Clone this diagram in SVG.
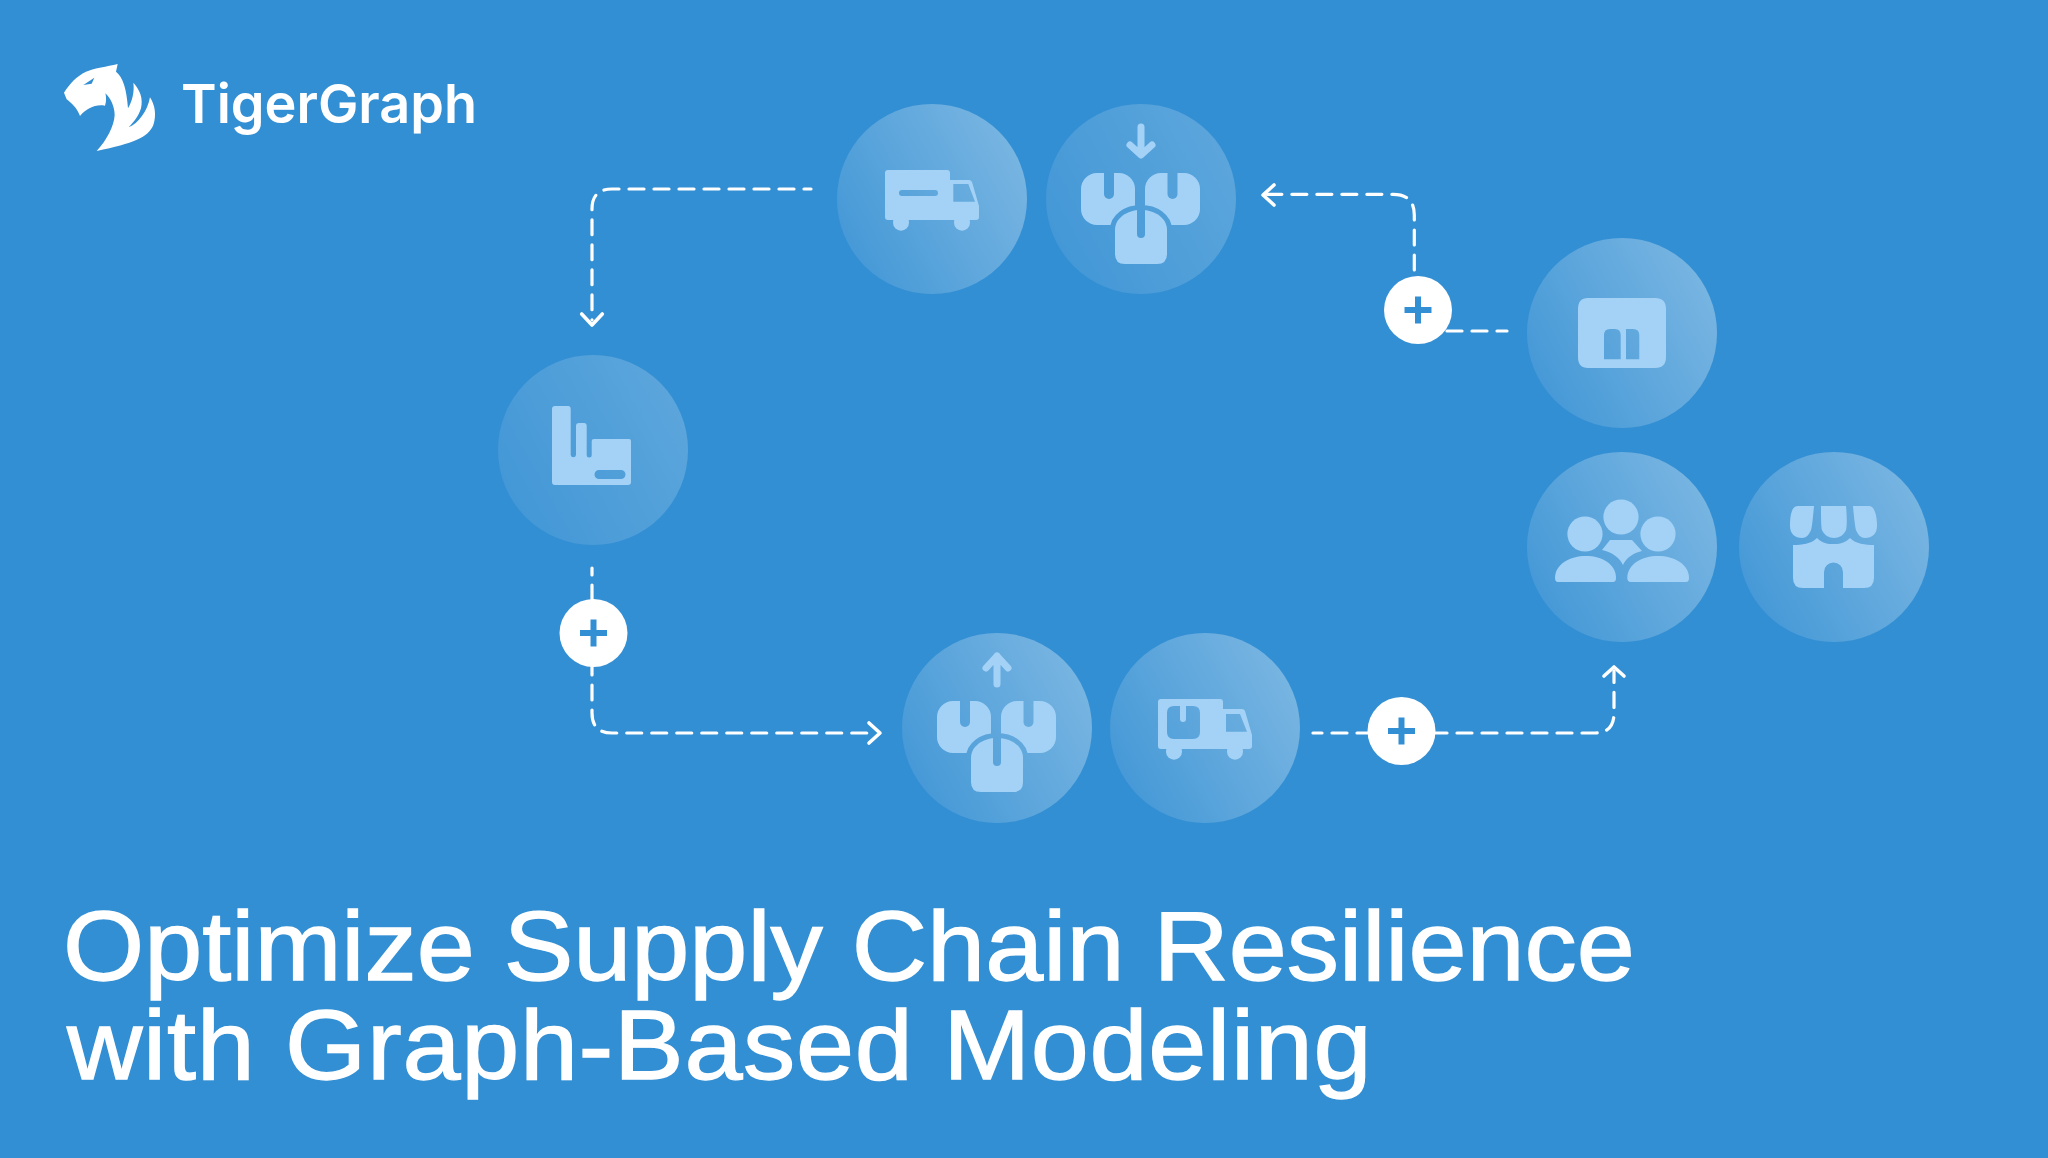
<svg xmlns="http://www.w3.org/2000/svg" xmlns:xlink="http://www.w3.org/1999/xlink" width="2048" height="1158" viewBox="0 0 2048 1158">
<style>
.disc{stroke:none}
.ic{fill:#A4D2F6}
.hole{fill-rule:evenodd}
.link{fill:none;stroke:#fff;stroke-width:3.2;stroke-linecap:round;stroke-linejoin:round;stroke-dasharray:15 10}
.tip{fill:none;stroke:#fff;stroke-width:3.6;stroke-linecap:round;stroke-linejoin:round}
.plus{fill:#fff}
.plusbar{stroke:#338FD3;stroke-width:6;fill:none}
.title{font-family:"Liberation Sans",Arial,sans-serif;font-size:98px;fill:#fff;stroke:#fff;stroke-width:1.3}
.brand{font-family:Inter,"Liberation Sans",sans-serif;font-size:54px;font-weight:600;fill:#fff}
</style>
<defs>
<linearGradient id="gA" x1="0" y1="0.85" x2="1" y2="0.3"><stop offset="0" stop-color="#fff" stop-opacity=".07"/><stop offset="1" stop-color="#fff" stop-opacity=".34"/></linearGradient>
<linearGradient id="gB" x1="0" y1="0.85" x2="1" y2="0.3"><stop offset="0" stop-color="#fff" stop-opacity=".07"/><stop offset="1" stop-color="#fff" stop-opacity=".2"/></linearGradient>
<mask id="boxcut" maskUnits="userSpaceOnUse" x="-70" y="-40" width="140" height="115">
<rect x="-60" y="-26" width="54" height="52" rx="16" fill="#fff"/>
<rect x="4" y="-26" width="55" height="52" rx="16" fill="#fff"/>
<rect x="-37" y="-40" width="10" height="40" rx="5" fill="#000"/>
<rect x="26.500" y="-40" width="10" height="40" rx="5" fill="#000"/>
<path d="M-26,31 C-26,19 -14,11 0,11 C14,11 26,19 26,31 V55 Q26,65 16,65 H-16 Q-26,65 -26,55 Z" fill="none" stroke="#000" stroke-width="10"/>
<path d="M-26,31 C-26,19 -14,11 0,11 C14,11 26,19 26,31 V55 Q26,65 16,65 H-16 Q-26,65 -26,55 Z" fill="#fff"/>
<rect x="-4" y="-5" width="8" height="44" rx="4" fill="#000"/>
</mask>
<g id="boxes"><rect class="ic" x="-70" y="-40" width="140" height="115" mask="url(#boxcut)"/></g>
<g id="wheels"><circle class="ic" cx="-31" cy="23.700" r="8"/><circle class="ic" cx="30" cy="23.700" r="8"/></g>
</defs>
<rect width="2048" height="1158" fill="#338FD3"/>

<g id="logo">
<path fill="#fff" fill-rule="evenodd" transform="translate(40,40) scale(.33333)" d="M72,158 C88,132 110,108 138,95 C165,84 200,80 233,72 L228,95 C250,112 260,150 264,205 C276,185 284,155 280,128 C300,150 310,175 303,205 C295,230 282,245 266,262 C295,250 322,215 330,172 C345,195 350,225 340,255 C325,292 280,310 170,333 C200,300 222,260 224,225 C224,200 212,175 196,160 C200,175 198,190 195,197 C165,192 140,205 120,228 C112,205 95,190 80,178 Z M130,135 L163,113 L155,131 Z"/>
<text class="brand" x="181" y="123">TigerGraph</text>
</g>

<g id="connectors">
<path class="link" stroke-dashoffset="8" d="M811,189 H612 Q592,189 592,209 V320"/>
<path class="tip" d="M581.700,314 L592,325 L602.300,314"/>
<path class="link" d="M1414.300,270 V215 Q1414.300,194.300 1393,194.300 H1266"/>
<path class="tip" d="M1274,185 L1263,195 L1274,205"/>
<path class="link" stroke-dasharray="14 8" stroke-dashoffset="5" d="M1507,331 H1440"/>
<path class="link" stroke-dashoffset="8" d="M592,568 V713 Q592,733 612,733 H876"/>
<path class="tip" d="M869,723 L880,733 L869,743"/>
<path class="link" stroke-dashoffset="6" d="M1313,733 H1595 Q1614,733 1614,713 V671"/>
<path class="tip" d="M1604,676 L1614,667 L1624,676"/>
</g>

<g id="node-truck-out" transform="translate(932,199)">
<circle class="disc" r="95" fill="url(#gA)"/>
<path class="ic hole" d="M-47,-26 Q-47,-29 -44,-29 H15 Q18,-29 18,-26 V-19 H37 Q39,-19 40,-17 L47,7 V18 Q47,21 44,21 H-44 Q-47,21 -47,18 Z M21.300,-15 V2.700 H43 L36.300,-15 Z M-30,-9 A3,3 0 0 0 -30,-3 H3 A3,3 0 0 0 3,-9 Z"/>
<use xlink:href="#wheels" href="#wheels"/>
</g>

<g id="node-inbound" transform="translate(1141,199)">
<circle class="disc" r="95" fill="url(#gB)"/>
<use xlink:href="#boxes" href="#boxes"/>
<path style="fill:none;stroke:#A4D2F6;stroke-width:7;stroke-linecap:round;stroke-linejoin:round" d="M0,-72 V-45 M-11,-54 L0,-44 L11,-54"/>
</g>

<g id="node-factory" transform="translate(593,450)">
<circle class="disc" r="95" fill="url(#gB)"/>
<path class="ic hole" d="M-41,-41 Q-41,-44 -38,-44 H-25 Q-22.300,-44 -22.300,-41 V5 A2.700,2.700 0 0 0 -17,5 V-24 Q-17,-27 -14,-27 H-9 Q-6.300,-27 -6.300,-24 V5 A2.500,2.500 0 0 0 -1.300,5 V-9 Q-1.300,-11 1,-11 H36 Q38,-11 38,-9 V32 Q38,35 35,35 H-38 Q-41,35 -41,32 Z M6,20 A4.500,4.500 0 0 0 6,29 H28 A4.500,4.500 0 0 0 28,20 Z"/>
</g>

<g id="node-outbound" transform="translate(997,728)">
<circle class="disc" r="95" fill="url(#gA)"/>
<use xlink:href="#boxes" href="#boxes" y="-1"/>
<path style="fill:none;stroke:#A4D2F6;stroke-width:7;stroke-linecap:round;stroke-linejoin:round" d="M0,-44 V-72 M-11,-60 L0,-72 L11,-60"/>
</g>

<g id="node-truck-parcel" transform="translate(1205,728)">
<circle class="disc" r="95" fill="url(#gA)"/>
<path class="ic hole" d="M-47,-26 Q-47,-29 -44,-29 H15 Q18,-29 18,-26 V-19 H37 Q39,-19 40,-17 L47,7 V18 Q47,21 44,21 H-44 Q-47,21 -47,18 Z M21,-14 V3.700 H42 L35,-14 Z M-31,-22 Q-38,-22 -38,-15 V4 Q-38,11 -31,11 H-12 Q-5,11 -5,4 V-15 Q-5,-22 -12,-22 Z"/>
<path class="ic" d="M-25,-22 H-19 V-9 A3,3 0 0 1 -25,-9 Z"/>
<use xlink:href="#wheels" href="#wheels"/>
</g>

<g id="node-warehouse" transform="translate(1622,333)">
<circle class="disc" r="95" fill="url(#gA)"/>
<path class="ic hole" d="M-34,-35 H33 Q44,-35 44,-24 V24 Q44,35 33,35 H-34 Q-44,35 -44,24 V-24 Q-44,-35 -34,-35 Z M-18,26.300 V2 Q-18,-4 -12,-4 H-7 Q-1.300,-4 -1.300,2 V26.300 Z M4,26.300 V-4 H11 Q17.300,-4 17.300,2 V26.300 Z"/>
</g>

<g id="node-customers" transform="translate(1622,547)">
<circle class="disc" r="95" fill="url(#gA)"/>
<circle class="ic" cx="-1" cy="-30" r="17.600"/>
<circle class="ic" cx="-37" cy="-13" r="17.600"/>
<circle class="ic" cx="36" cy="-13" r="17.600"/>
<path class="ic" d="M-20,3 L-12,-7 H10 L20,4 C11,6 4,11 1,18 C-2,11 -10,5 -20,3 Z"/>
<path class="ic" d="M-64,35 Q-67,35 -67,31 C-67,17 -52,9 -36,9 C-20,9 -6,17 -6,31 Q-6,35 -9,35 Z"/>
<path class="ic" d="M9,35 Q5.300,35 5.300,31 C5.300,17 20,9 36,9 C52,9 67,17 67,31 Q67,35 64,35 Z"/>
</g>

<g id="node-store" transform="translate(1834,547)">
<circle class="disc" r="95" fill="url(#gA)"/>
<path class="ic" d="M-36,-41 H-20 C-21,-30 -22,-20 -23,-17 C-25,-12 -28,-9 -32,-9 C-39,-9 -44,-13 -44,-21 C-44,-30 -43,-41 -36,-41 Z"/>
<path class="ic" d="M-13,-41 H12 C13,-30 13,-20 12,-17 C10,-12 5,-9 0,-9 C-5,-9 -10,-12 -12,-17 C-13,-20 -13,-30 -13,-41 Z"/>
<path class="ic" d="M19,-41 H35 C41,-41 43,-30 43,-21 C43,-13 38,-9 31,-9 C27,-9 24,-12 22,-17 C21,-20 20,-30 19,-41 Z"/>
<path class="ic" d="M-41,-2 C-32,-2 -23,-3 -17,-9 C-11,-3 -5,-3 -1,-3 C4,-3 10,-3 16,-9 C22,-3 31,-2 40,-2 V31 Q40,41 30,41 H9 V25 A9.500,9.500 0 0 0 -10,25 V41 H-31 Q-41,41 -41,31 Z"/>
</g>

<g id="join-left" transform="translate(593.500,633)"><circle class="plus" r="34"/><path class="plusbar" d="M-13.500,0 H13.500 M0,-13.500 V13.500"/></g>
<g id="join-top" transform="translate(1418,310)"><circle class="plus" r="34"/><path class="plusbar" d="M-13.500,0 H13.500 M0,-13.500 V13.500"/></g>
<g id="join-bottom" transform="translate(1401.500,731)"><circle class="plus" r="34"/><path class="plusbar" d="M-13.500,0 H13.500 M0,-13.500 V13.500"/></g>

<g id="heading">
<text class="title" transform="translate(63,980) scale(1.065,1)">Optimize Supply Chain Resilience</text>
<text class="title" transform="translate(67,1079) scale(1.065,1)" letter-spacing="0.66">with Graph-Based Modeling</text>
</g>
</svg>
